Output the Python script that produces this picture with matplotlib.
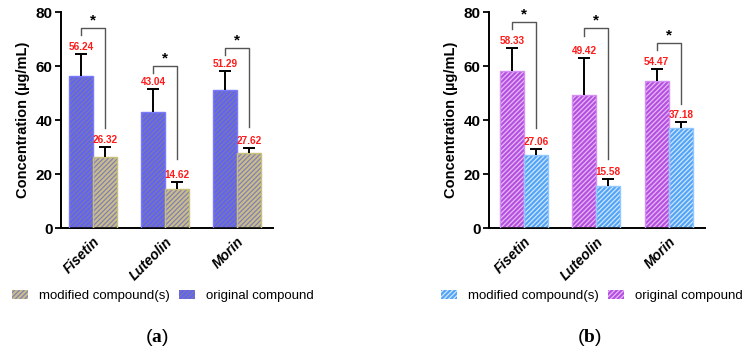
import numpy as np
import matplotlib
matplotlib.use('Agg')
import matplotlib.pyplot as plt
from matplotlib.patches import Patch

plt.rcParams['font.family'] = ['Liberation Sans', 'DejaVu Sans']
plt.rcParams['hatch.linewidth'] = 0.9
plt.rcParams['mathtext.fontset'] = 'custom'
plt.rcParams['mathtext.rm'] = 'Liberation Serif'
plt.rcParams['mathtext.bf'] = 'Liberation Serif:bold'

compounds = ['Fisetin', 'Luteolin', 'Morin']

# panel (a)
a_original = [56.24, 43.04, 51.29]
a_original_sd = [8.2, 8.5, 6.7]
a_modified = [26.32, 14.62, 27.62]
a_modified_sd = [3.7, 2.3, 2.0]
# bracket: top, left leg end, right leg end
a_brackets = [(74.0, 71.5, 37.0), (60.0, 57.5, 25.5), (66.5, 64.0, 37.4)]

# panel (b)
b_original = [58.33, 49.42, 54.47]
b_original_sd = [8.3, 13.6, 4.5]
b_modified = [27.06, 15.58, 37.18]
b_modified_sd = [2.2, 2.4, 2.1]
b_brackets = [(76.4, 73.7, 37.0), (74.0, 71.0, 25.5), (68.5, 66.0, 46.0)]

styles = {
    'a': {'orig': ('#6262f6', '#7c7ca0', '#7a7aff'),
          'mod': ('#cbbd88', '#8080b8', '#c8bf7a')},
    'b': {'orig': ('#b450e0', '#e8b8f8', '#d290f2'),
          'mod': ('#52a4f6', '#cfe6ff', '#92c8ff')},
}
HATCH = '/' * 7

fig = plt.figure(figsize=(7.47, 3.52), dpi=100)


def hatched_bar(ax, x, h, fill, hatch_col, edge, w):
    ax.bar(x, h, w, color=fill, edgecolor=hatch_col, hatch=HATCH, linewidth=0, zorder=2)
    ax.bar(x, h, w, fill=False, edgecolor=edge, linewidth=1.0, zorder=3)


def up_errorbar(ax, xs, vals, sds):
    tops = np.array(vals) + np.array(sds)
    ax.vlines(xs, vals, tops, color='black', lw=1.4, zorder=4)
    ax.plot(xs, tops, ls='none', marker='_', markersize=8, mew=1.4, color='black', zorder=4)


def draw_panel(ax, orig, orig_sd, mod, mod_sd, brackets, st, xlim):
    x = np.arange(len(compounds))
    w = 0.333
    xo = x - w / 2
    xm = x + w / 2
    hatched_bar(ax, xo, orig, *st['orig'], w)
    hatched_bar(ax, xm, mod, *st['mod'], w)
    up_errorbar(ax, xo, orig, orig_sd)
    up_errorbar(ax, xm, mod, mod_sd)
    for xi, v, s in zip(xo, orig, orig_sd):
        ax.text(xi, v + s + 0.8, f'{v:.2f}', color='#ff1a1a', fontsize=7.2,
                fontweight='bold', ha='center', va='bottom')
    for xi, v, s in zip(xm, mod, mod_sd):
        ax.text(xi, v + s + 0.8, f'{v:.2f}', color='#ff1a1a', fontsize=7.2,
                fontweight='bold', ha='center', va='bottom')
    for xl, xr, (top, lend, rend) in zip(xo, xm, brackets):
        ax.plot([xl, xl, xr, xr], [lend, top, top, rend], color='#555555', lw=1.0, zorder=4)
        ax.text((xl + xr) / 2, top + 0.2, '*', fontsize=11, fontweight='bold',
                ha='center', va='bottom')
    ax.set_xlim(*xlim)
    ax.set_ylim(0, 80)
    ax.set_yticks([0, 20, 40, 60, 80])
    ax.set_xticks(x)
    ax.set_xticklabels(compounds, rotation=45, ha='right', rotation_mode='anchor',
                       fontsize=10, fontweight='bold', fontstyle='italic')
    for lab in ax.get_yticklabels():
        lab.set_fontweight('bold')
        lab.set_fontsize(11)
    ax.tick_params(axis='x', length=0, pad=5)
    ax.tick_params(axis='y', length=4, width=1.3, pad=2)
    ax.spines['top'].set_visible(False)
    ax.spines['right'].set_visible(False)
    ax.spines['left'].set_linewidth(1.4)
    ax.spines['bottom'].set_linewidth(1.4)
    ax.set_ylabel('Concentration (µg/mL)', fontsize=10.5, fontweight='bold', labelpad=4)


ax1 = fig.add_axes([61 / 747, 1 - 228 / 352, (273 - 61) / 747, 216 / 352])
draw_panel(ax1, a_original, a_original_sd, a_modified, a_modified_sd, a_brackets,
           styles['a'], (-0.444, 2.5))
ax2 = fig.add_axes([489 / 747, 1 - 228 / 352, (705 - 489) / 747, 216 / 352])
draw_panel(ax2, b_original, b_original_sd, b_modified, b_modified_sd, b_brackets,
           styles['b'], (-0.48, 2.5))

for key, x0 in (('a', 12 / 747), ('b', 441 / 747)):
    st = styles[key]
    handles = [Patch(facecolor=st['mod'][0], edgecolor=st['mod'][1], hatch=HATCH, linewidth=0),
               Patch(facecolor=st['orig'][0], edgecolor=st['orig'][1], hatch=HATCH, linewidth=0)]
    fig.legend(handles, ['modified compound(s)', 'original compound'], loc='center left',
               bbox_to_anchor=(x0, 1 - 296 / 352), ncol=2, frameon=False, fontsize=9.5,
               handlelength=1.2, handleheight=0.75, handletextpad=0.85, columnspacing=0.7,
               borderaxespad=0, borderpad=0)

fig.text(157 / 747, 1 - 337 / 352, r'($\mathbf{a}$)', fontsize=14, ha='center', va='center')
fig.text(589 / 747, 1 - 337 / 352, r'($\mathbf{b}$)', fontsize=14, ha='center', va='center')

fig.savefig('out.png', dpi=100, facecolor='white')
